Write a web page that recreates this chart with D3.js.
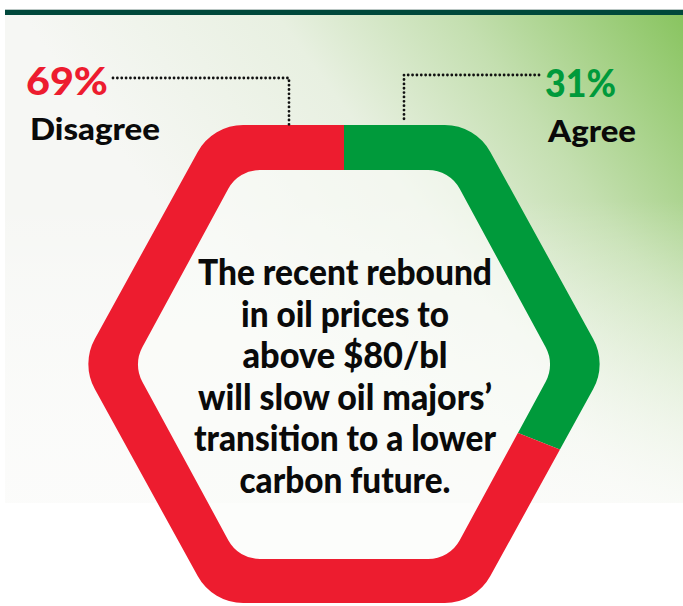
<!DOCTYPE html>
<html>
<head>
<meta charset="utf-8">
<script src="https://cdn.jsdelivr.net/npm/d3@7"></script>
<style>
  html, body { margin: 0; padding: 0; background: #ffffff; }
  svg { display: block; }
  text { font-family: Lato, "Open Sans", Roboto, sans-serif; font-weight: 900; }
</style>
</head>
<body>
<svg id="chart" width="683" height="606"></svg>
<script>
// ---- data ----
const categories = ["Agree", "Disagree"];
const values = [31, 69];
const valueLabels = ["31%", "69%"];
const colors = ["#009a3b", "#ed1c2f"];
const questionLines = [
  "The recent rebound",
  "in oil prices to",
  "above $80/bl",
  "will slow oil majors\u2019",
  "transition to a lower",
  "carbon future."
];

// ---- layout ----
const width = 683, height = 606;
const cx = 344, cy = 364;
const outer = { W: 263, H: 239, r: 52 };
const inner = { W: 211, H: 194.5, r: 36 };

const svg = d3.select("#chart");
const defs = svg.append("defs");

// background gradient
const grad = defs.append("linearGradient")
  .attr("id", "bg").attr("gradientUnits", "userSpaceOnUse")
  .attr("x1", 690).attr("y1", 10).attr("x2", 250).attr("y2", 330);
grad.append("stop").attr("offset", 0).attr("stop-color", "#86c35c");
grad.append("stop").attr("offset", 0.35).attr("stop-color", "#c4dfb0");
grad.append("stop").attr("offset", 0.62).attr("stop-color", "#e8f0e1");
grad.append("stop").attr("offset", 1).attr("stop-color", "#f6f7f4");

const grad2 = defs.append("linearGradient")
  .attr("id", "bg2").attr("gradientUnits", "userSpaceOnUse")
  .attr("x1", 0).attr("y1", 200).attr("x2", 0).attr("y2", 503);
grad2.append("stop").attr("offset", 0).attr("stop-color", "#ffffff").attr("stop-opacity", 0);
grad2.append("stop").attr("offset", 1).attr("stop-color", "#fcfcfb").attr("stop-opacity", 0.9);

svg.append("rect").attr("x", 5).attr("y", 15).attr("width", width - 5).attr("height", 488)
  .attr("fill", "url(#bg)");
svg.append("rect").attr("x", 5).attr("y", 15).attr("width", width - 5).attr("height", 488)
  .attr("fill", "url(#bg2)");
// top bar
svg.append("rect").attr("x", 5).attr("y", 9).attr("width", width - 5).attr("height", 1)
  .attr("fill", "#b9c6c3");
svg.append("rect").attr("x", 5).attr("y", 10).attr("width", width - 5).attr("height", 5)
  .attr("fill", "#00483b");

// rounded hexagon
function hexPoints(s, ccy) {
  return [
    [cx - s.W / 2, ccy - s.H],
    [cx + s.W / 2, ccy - s.H],
    [cx + s.W, ccy],
    [cx + s.W / 2, ccy + s.H],
    [cx - s.W / 2, ccy + s.H],
    [cx - s.W, ccy]
  ];
}
function roundedPoly(p, pts, r) {
  const n = pts.length;
  const m = [(pts[0][0] + pts[1][0]) / 2, (pts[0][1] + pts[1][1]) / 2];
  p.moveTo(m[0], m[1]);
  for (let i = 1; i <= n; i++) {
    const v = pts[i % n], nx = pts[(i + 1) % n];
    p.arcTo(v[0], v[1], nx[0], nx[1], r);
  }
  p.closePath();
}
const ringPath = d3.path();
roundedPoly(ringPath, hexPoints(outer, cy), outer.r);
roundedPoly(ringPath, hexPoints(inner, cy + 0.5), inner.r);
const ringD = ringPath.toString();

// inner white fill
const innerPath = d3.path();
roundedPoly(innerPath, hexPoints(inner, cy + 0.5), inner.r);
svg.append("path").attr("d", innerPath.toString()).attr("fill", "#fafbf9").attr("opacity", 0.6);

// pie wedges as clip paths
const pie = d3.pie().sort(null).value(d => d)(values);
const wedge = d3.arc().innerRadius(0).outerRadius(500);
pie.forEach((d, i) => {
  defs.append("clipPath").attr("id", "clip" + i)
    .append("path").attr("transform", `translate(${cx},${cy})`).attr("d", wedge(d));
});
pie.forEach((d, i) => {
  svg.append("path")
    .attr("d", ringD)
    .attr("fill-rule", "evenodd")
    .attr("fill", colors[i])
    .attr("clip-path", `url(#clip${i})`);
});

// leader lines (dotted)
const dotted = (pts) => svg.append("path")
  .attr("d", d3.line()(pts))
  .attr("fill", "none").attr("stroke", "#111")
  .attr("stroke-width", 2.8).attr("stroke-linecap", "round")
  .attr("stroke-dasharray", "0.01 4.35");
dotted([[113, 78], [289, 78], [289, 125]]);
dotted([[539, 75], [404, 75], [404, 122]]);

// labels
svg.append("text").attr("x", 26).attr("y", 95).attr("font-size", 38)
  .attr("fill", colors[1]).attr("textLength", 82).attr("lengthAdjust", "spacingAndGlyphs")
  .text(valueLabels[1]);
svg.append("text").attr("x", 30).attr("y", 140).attr("font-size", 31)
  .attr("fill", "#0a0a0a").attr("textLength", 130).attr("lengthAdjust", "spacingAndGlyphs")
  .text(categories[1]);
svg.append("text").attr("x", 545).attr("y", 97).attr("font-size", 38)
  .attr("fill", colors[0]).attr("textLength", 71).attr("lengthAdjust", "spacingAndGlyphs")
  .text(valueLabels[0]);
svg.append("text").attr("x", 548).attr("y", 142).attr("font-size", 31)
  .attr("fill", "#0a0a0a").attr("textLength", 88).attr("lengthAdjust", "spacingAndGlyphs")
  .text(categories[0]);

// central question
const lineWidths = [294, 208, 205, 294, 302, 211];
svg.append("g").selectAll("text").data(questionLines).join("text")
  .attr("x", 345)
  .attr("y", (d, i) => 285 + i * 41.6)
  .attr("text-anchor", "middle")
  .attr("font-size", 36)
  .attr("fill", "#0a0a0a")
  .attr("textLength", (d, i) => lineWidths[i])
  .attr("lengthAdjust", "spacingAndGlyphs")
  .text(d => d);
</script>
</body>
</html>
